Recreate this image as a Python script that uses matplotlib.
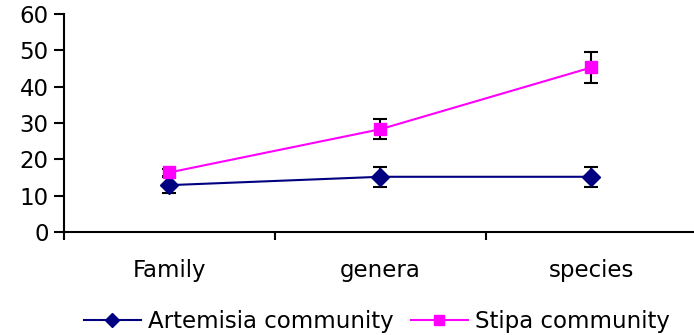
import matplotlib
matplotlib.use('Agg')
import matplotlib.pyplot as plt

# Data
categories = ['Family', 'genera', 'species']
artemisia = [12.9, 15.2, 15.2]
artemisia_err = [2.3, 2.8, 2.8]
stipa = [16.4, 28.3, 45.3]
stipa_err = [1.0, 2.7, 4.3]

plt.rcParams['font.family'] = ['DejaVu Sans']

fig = plt.figure(figsize=(6.94, 3.35), dpi=100)
ax = fig.add_axes([0.0922, 0.3075, 0.912, 0.6505])

x = [i + 0.5 for i in range(len(categories))]

ax.errorbar(x, artemisia, yerr=artemisia_err, color='#000080', marker='D',
            markersize=9, linewidth=1.5, ecolor='black', elinewidth=1.5,
            capsize=5, capthick=1.5, label='Artemisia community')
ax.errorbar(x, stipa, yerr=stipa_err, color='#FF00FF', marker='s',
            markersize=8.5, linewidth=1.5, ecolor='black', elinewidth=1.5,
            capsize=5, capthick=1.5, label='Stipa community')

ax.set_xlim(0, 3)
ax.set_ylim(0, 60)
ax.set_yticks(range(0, 61, 10))
ax.set_xticks([0, 1, 2, 3])
ax.set_xticklabels([])
ax.set_xticks(x, minor=True)
ax.set_xticklabels(categories, minor=True)
ax.tick_params(axis='x', which='minor', length=0, pad=19.5, labelsize=16.5)
ax.tick_params(axis='x', which='major', length=6, width=1.5, direction='out')
ax.tick_params(axis='y', length=7, width=1.5, direction='out', labelsize=16.5, pad=4)

for s in ['top', 'right']:
    ax.spines[s].set_visible(False)
for s in ['left', 'bottom']:
    ax.spines[s].set_linewidth(1.5)

handles, labels = ax.get_legend_handles_labels()
handles = [h[0] for h in handles]
fig.legend(handles, labels, loc='center', bbox_to_anchor=(0.543, 0.039), ncol=2,
           frameon=False, fontsize=16.5, handlelength=2.5, columnspacing=0.75,
           handletextpad=0.3, borderpad=0, markerscale=0.8)

fig.savefig('out.png', dpi=100)
